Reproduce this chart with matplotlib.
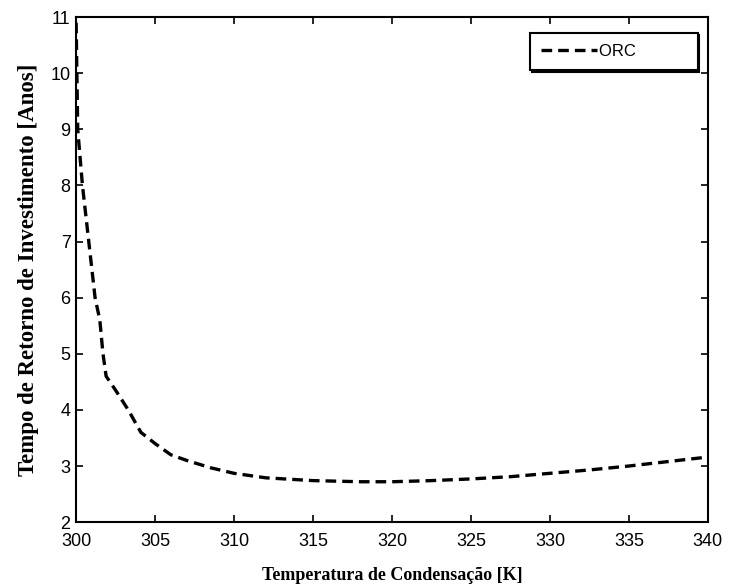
import matplotlib.pyplot as plt

# condensation temperature [K] and payback time [years]
temp = [300.0, 300.1, 300.4, 300.8, 301.2, 301.5, 301.7, 301.9, 302.5, 303.3,
        304.1, 305.0, 306.0, 307.0, 308.5, 310.0, 312.0, 315.0, 318.0, 320.0,
        322.5, 325.0, 327.5, 330.0, 332.5, 335.0, 337.5, 340.0]
payback = [10.9, 9.0, 8.0, 7.0, 6.0, 5.6, 5.0, 4.6, 4.35, 4.0,
           3.6, 3.4, 3.2, 3.1, 2.97, 2.87, 2.79, 2.74, 2.72, 2.72,
           2.74, 2.77, 2.81, 2.87, 2.93, 3.0, 3.08, 3.16]

ticks_x = [300, 305, 310, 315, 320, 325, 330, 335, 340]
ticks_y = [2, 3, 4, 5, 6, 7, 8, 9, 10, 11]

fig = plt.figure(figsize=(7.32, 5.88), dpi=100)
ax = fig.add_axes([0.104, 0.112, 0.863, 0.859])

ax.plot(temp, payback, color="black", linestyle=(0, (3.2, 1.8)), linewidth=2.4, label="ORC")

ax.set_xlim(300, 340)
ax.set_ylim(2, 11)
ax.set_xticks(ticks_x)
ax.set_yticks(ticks_y)
ax.tick_params(direction="in", top=True, right=True, length=5, width=1.2,
               labelsize=13)
ax.tick_params(axis="x", pad=8)
ax.tick_params(axis="y", pad=4)
for lab in ax.get_xticklabels() + ax.get_yticklabels():
    lab.set_family("Liberation Sans")
for s in ax.spines.values():
    s.set_linewidth(1.5)

ax.set_xlabel("Temperatura de Condensação [K]", family="Liberation Serif",
              fontweight="bold", fontsize=13, labelpad=12)
ax.set_ylabel("Tempo de Retorno de Investimento [Anos]", family="Liberation Serif",
              fontweight="bold", fontsize=16.5, labelpad=8)

leg = ax.legend(loc="upper right", fancybox=False, edgecolor="black", framealpha=1,
                handlelength=3.4, handletextpad=0.1, borderaxespad=0,
                borderpad=0.65, bbox_to_anchor=(0.984, 0.968),
                prop={"family": "Liberation Sans", "size": 12},
                shadow={"color": "black", "alpha": 1, "ox": 1.2, "oy": -1.2})
leg.get_frame().set_linewidth(1.5)
for t in leg.get_texts():
    t.set_text(t.get_text() + "           ")

fig.savefig("out.png", dpi=100)
